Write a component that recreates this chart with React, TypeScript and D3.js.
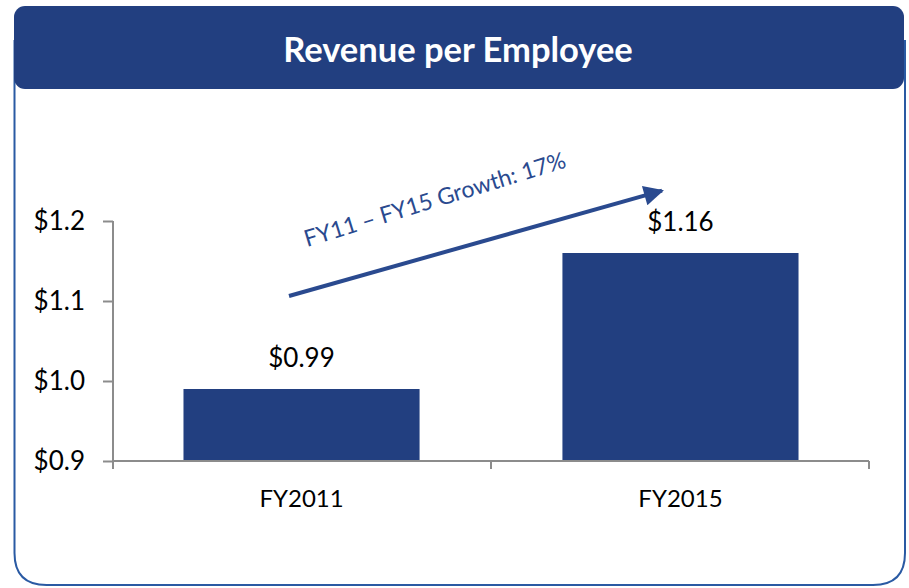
import React, { useEffect, useRef } from 'react';
import * as d3 from 'd3';

// chart data
const categories = ['FY2011', 'FY2015'];
const values = [0.99, 1.16];
const valueLabels = ['$0.99', '$1.16'];
const yTicks = [0.9, 1.0, 1.1, 1.2];
const growthLabel = 'FY11 \u2013 FY15 Growth: 17%';
const title = 'Revenue per Employee';

const W = 909;
const H = 588;
const FONT = 'Lato, "Open Sans", sans-serif';
const NAVY = '#223f80';

const App = () => {
  const svgRef = useRef<SVGSVGElement>(null);

  useEffect(() => {
    const svg = d3.select(svgRef.current);
    svg.selectAll('*').remove();

    // outer frame, rounded bottom corners
    const fx0 = 14.5, fx1 = 905, fy0 = 40, fy1 = 585, r = 32;
    svg
      .append('path')
      .attr(
        'd',
        `M${fx0},${fy0} L${fx0},${fy1 - r} Q${fx0},${fy1} ${fx0 + r},${fy1} L${fx1 - r},${fy1} Q${fx1},${fy1} ${fx1},${fy1 - r} L${fx1},${fy0}`
      )
      .attr('fill', 'none')
      .attr('stroke', '#2a5aa3')
      .attr('stroke-width', 2);

    // header
    svg
      .append('rect')
      .attr('x', 14)
      .attr('y', 6)
      .attr('width', 890)
      .attr('height', 83)
      .attr('rx', 11)
      .attr('fill', NAVY);

    svg
      .append('text')
      .attr('x', 458)
      .attr('y', 62)
      .attr('text-anchor', 'middle')
      .attr('fill', '#fff')
      .style('font-family', FONT)
      .style('font-size', '34.5px')
      .style('font-weight', 'bold')
      .text(title);

    // plot area
    const left = 113, right = 869, top = 221, bottom = 461;

    const x = d3
      .scaleBand()
      .domain(categories)
      .range([left, right])
      .paddingInner(0.377)
      .paddingOuter(0.186);

    const y = d3.scaleLinear().domain([0.9, 1.2]).range([bottom, top]);

    // bars
    svg
      .selectAll('.bar')
      .data(values)
      .enter()
      .append('rect')
      .attr('class', 'bar')
      .attr('x', (_d, i) => x(categories[i]) as number)
      .attr('y', d => y(d))
      .attr('width', x.bandwidth())
      .attr('height', d => bottom - y(d))
      .attr('fill', NAVY);

    // value labels
    svg
      .selectAll('.vlabel')
      .data(values)
      .enter()
      .append('text')
      .attr('class', 'vlabel')
      .attr('x', (_d, i) => (x(categories[i]) as number) + x.bandwidth() / 2)
      .attr('y', d => y(d) - 22)
      .attr('text-anchor', 'middle')
      .style('font-family', FONT)
      .style('font-size', '26px')
      .attr('fill', '#000')
      .text((_d, i) => valueLabels[i]);

    const axisColor = '#8c8c8c';

    // y axis
    const yAxis = svg
      .append('g')
      .attr('transform', `translate(${left},0)`)
      .call(
        d3
          .axisLeft(y)
          .tickValues(yTicks)
          .tickSize(10)
          .tickPadding(18)
          .tickFormat(d => `$${(d as number).toFixed(1)}`)
      );
    yAxis.select('.domain').attr('stroke', axisColor).attr('stroke-width', 2).attr('d', `M0,${top}V${bottom}`);
    yAxis.selectAll('.tick line').attr('stroke', axisColor).attr('stroke-width', 2);
    yAxis
      .selectAll('.tick text')
      .style('font-family', FONT)
      .style('font-size', '26px')
      .attr('fill', '#000');

    // x axis
    const xAxis = svg
      .append('g')
      .attr('transform', `translate(0,${bottom})`)
      .call(d3.axisBottom(x).tickSize(0).tickPadding(0));
    xAxis.select('.domain').attr('stroke', axisColor).attr('stroke-width', 2).attr('d', `M${left},0H${right}`);
    xAxis
      .selectAll('.tick text')
      .attr('y', 46)
      .attr('dy', null)
      .style('font-family', FONT)
      .style('font-size', '24px')
      .attr('fill', '#000');

    // x tick marks at band boundaries
    const bounds = [left, (left + right) / 2, right];
    xAxis
      .selectAll('.bound')
      .data(bounds)
      .enter()
      .append('line')
      .attr('x1', d => d)
      .attr('x2', d => d)
      .attr('y1', 0)
      .attr('y2', 8)
      .attr('stroke', axisColor)
      .attr('stroke-width', 2);

    // growth arrow
    const defs = svg.append('defs');
    defs
      .append('marker')
      .attr('id', 'arrowhead')
      .attr('viewBox', '0 0 10 10')
      .attr('refX', 9)
      .attr('refY', 5)
      .attr('markerWidth', 7)
      .attr('markerHeight', 5)
      .attr('orient', 'auto')
      .attr('markerUnits', 'strokeWidth')
      .append('path')
      .attr('d', 'M0,0 L10,5 L0,10 Z')
      .attr('fill', '#2a4a8f');

    const ax0 = 289, ay0 = 296, ax1 = 668, ay1 = 189;
    svg
      .append('line')
      .attr('x1', ax0)
      .attr('y1', ay0)
      .attr('x2', ax1 - 6)
      .attr('y2', ay1 + 1.7)
      .attr('stroke', '#2a4a8f')
      .attr('stroke-width', 4)
      .attr('marker-end', 'url(#arrowhead)');

    const angle = (Math.atan2(ay1 - ay0, ax1 - ax0) * 180) / Math.PI;
    svg
      .append('text')
      .attr('transform', `translate(307,247) rotate(${angle - 1.3})`)
      .style('font-family', FONT)
      .style('font-size', '23px')
      .attr('fill', '#2a4a8f')
      .text(growthLabel);
  }, []);

  return (
    <svg
      ref={svgRef}
      width={W}
      height={H}
      style={{ position: 'absolute', left: 0, top: 0, background: '#fff' }}
    />
  );
};

export default App;
